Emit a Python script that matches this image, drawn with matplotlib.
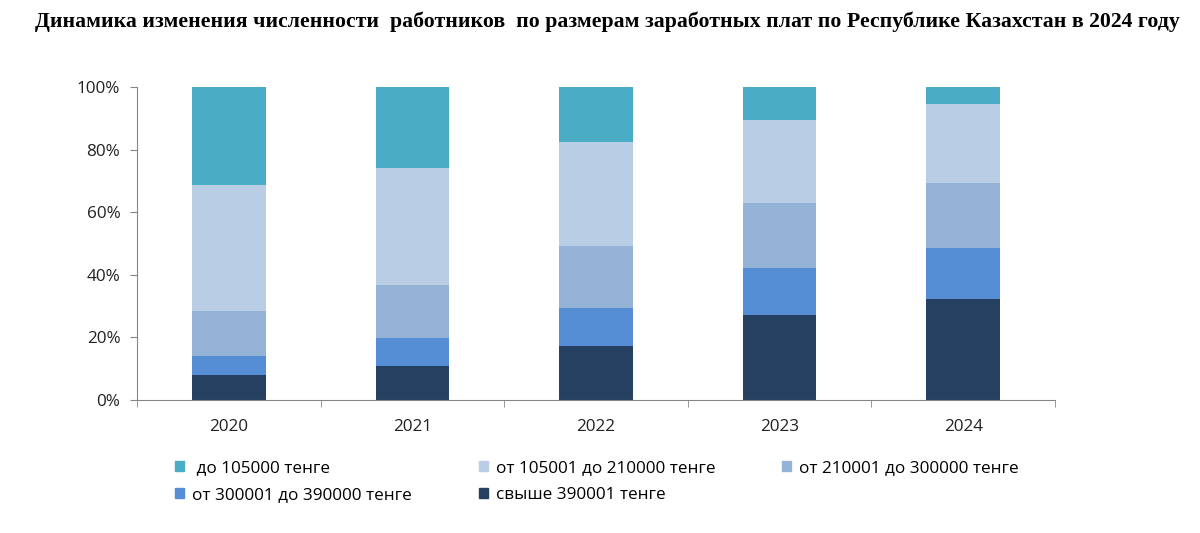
import matplotlib.pyplot as plt
from matplotlib.patches import Patch
import numpy as np

years = ['2020', '2021', '2022', '2023', '2024']
labels = [' до 105000 тенге', 'от 105001 до 210000 тенге', 'от 210001 до 300000 тенге',
          'от 300001 до 390000 тенге', 'свыше 390001 тенге']
colors = ['#4BACC6', '#B9CDE5', '#95B3D7', '#558ED5', '#254061']

# shares, %, from bottom segment (highest wage) upwards
over_390 = [8.0, 10.9, 17.3, 27.2, 32.3]
s300_390 = [6.1, 8.9, 12.1, 15.0, 16.3]
s210_300 = [14.3, 16.9, 19.8, 20.7, 20.7]
s105_210 = [40.3, 37.4, 33.2, 26.6, 25.3]
under_105 = [31.3, 25.9, 17.6, 10.5, 5.4]

series = [under_105, s105_210, s210_300, s300_390, over_390]

plt.rcParams['font.family'] = ['Open Sans', 'DejaVu Sans']

fig = plt.figure(figsize=(12, 5.33), dpi=100)
ax = fig.add_axes([137 / 1200, 1 - 400 / 533, (1055 - 137) / 1200, 313 / 533])

x = np.arange(len(years))
bottom = np.zeros(len(years))
for vals, col in zip(series[::-1], colors[::-1]):
    ax.bar(x, vals, width=0.4, bottom=bottom, color=col, zorder=2)
    bottom += np.array(vals)

ax.set_xlim(-0.5, len(years) - 0.5)
ax.set_ylim(0, 100)
ax.set_yticks(range(0, 101, 20))
ax.set_yticklabels([f'{v}%' for v in range(0, 101, 20)], fontsize=12.3, color='#222222')
ax.set_xticks(x)
ax.set_xticklabels(years, fontsize=12.3, color='#222222')
ax.tick_params(axis='x', length=0, pad=14)
ax.set_xticks(np.arange(-0.5, len(years)), minor=True)
ax.tick_params(axis='x', which='minor', length=5, color='#868686', direction='out')
ax.tick_params(axis='y', length=5, color='#868686', direction='out', pad=7)
for s in ['top', 'right']:
    ax.spines[s].set_visible(False)
for s in ['left', 'bottom']:
    ax.spines[s].set_color('#868686')

fig.text(0.506, 1 - 22 / 533, 'Динамика изменения численности  работников  по размерам заработных плат по Республике Казахстан в 2024 году',
         ha='center', va='center', fontsize=15.7, fontweight='bold', family='Liberation Serif')

handles = [Patch(color=c) for c in colors]
order = [0, 3, 1, 4, 2]
fig.legend([handles[i] for i in order], [labels[i] for i in order], ncol=3,
           loc='upper left', bbox_to_anchor=(160 / 1200, 1 - 445 / 533), frameon=False,
           fontsize=12.3, handlelength=0.53, handleheight=0.53, handletextpad=0.47,
           columnspacing=3.9, labelspacing=0.63)

fig.savefig('out.png', dpi=100)
